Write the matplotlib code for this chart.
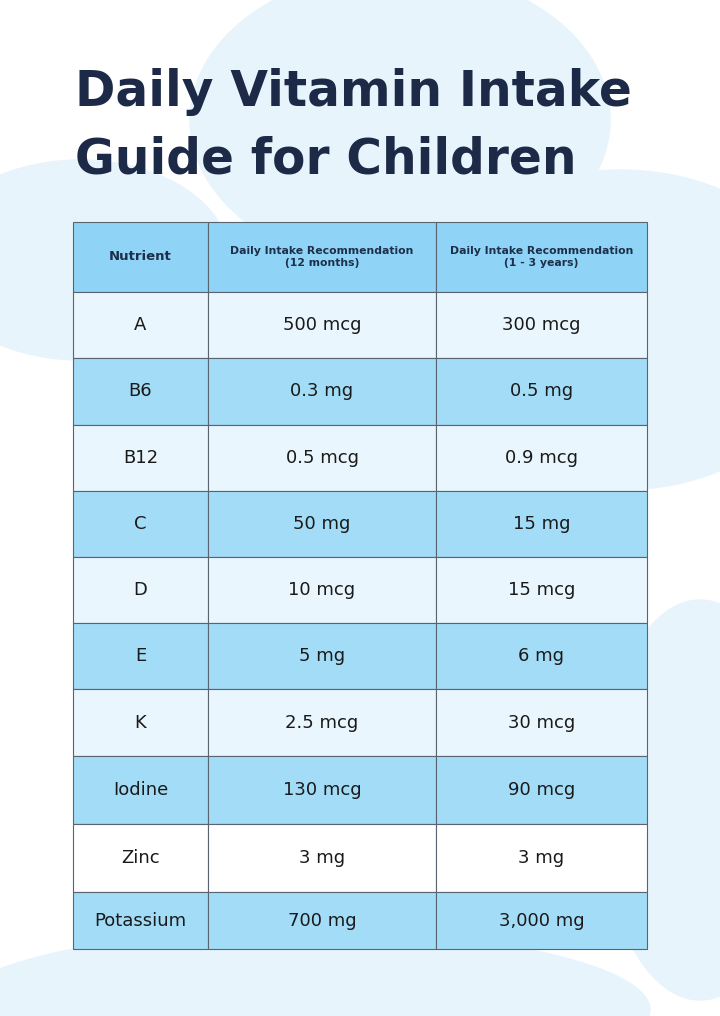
import matplotlib
matplotlib.use("Agg")
import matplotlib.pyplot as plt
from matplotlib.patches import Rectangle, Ellipse

title_lines = ["Daily Vitamin Intake", "Guide for Children"]
headers = ["Nutrient", "Daily Intake Recommendation\n(12 months)",
           "Daily Intake Recommendation\n(1 - 3 years)"]
nutrients = ["A", "B6", "B12", "C", "D", "E", "K", "Iodine", "Zinc", "Potassium"]
intake_12m = ["500 mcg", "0.3 mg", "0.5 mcg", "50 mg", "10 mcg", "5 mg",
              "2.5 mcg", "130 mcg", "3 mg", "700 mg"]
intake_1_3y = ["300 mcg", "0.5 mg", "0.9 mcg", "15 mg", "15 mcg", "6 mg",
               "30 mcg", "90 mcg", "3 mg", "3,000 mg"]

col_edges = [73, 208, 436, 647]
row_edges = [222, 292, 358, 425, 491, 557, 623, 689, 756, 824, 892, 949]

fig = plt.figure(figsize=(7.2, 10.16), dpi=100)
ax = fig.add_axes([0, 0, 1, 1])
ax.set_xlim(0, 720); ax.set_ylim(1016, 0); ax.axis("off")

# pale background blobs
blob = "#e8f4fc"
ax.add_patch(Ellipse((400, 120), 420, 300, color=blob, zorder=0))
ax.add_patch(Ellipse((620, 330), 420, 320, color=blob, zorder=0))
ax.add_patch(Ellipse((80, 260), 300, 200, color=blob, zorder=0))
ax.add_patch(Ellipse((300, 1010), 700, 160, color=blob, zorder=0))
ax.add_patch(Ellipse((700, 800), 200, 400, color=blob, zorder=0))

navy = "#1d2a47"
for i, line in enumerate(title_lines):
    ax.text(75, 92 + i * 68, line, fontsize=35, fontweight="bold", color=navy,
            family="DejaVu Sans", va="center", ha="left")

header_c = "#8fd4f6"
light_c = "#eaf6fd"
dark_c = "#a3dcf7"
text_c = "#1a1a1a"

rows = [headers] + [[n, a, b] for n, a, b in zip(nutrients, intake_12m, intake_1_3y)]
for r, row in enumerate(rows):
    y0, y1 = row_edges[r], row_edges[r + 1]
    if r == 0:
        fc = header_c
    elif r == 9:
        fc = "#ffffff"
    else:
        fc = light_c if r % 2 == 1 else dark_c
    for c, val in enumerate(row):
        x0, x1 = col_edges[c], col_edges[c + 1]
        ax.add_patch(Rectangle((x0, y0), x1 - x0, y1 - y0, facecolor=fc,
                               edgecolor="#5a6470", lw=0.8, zorder=2))
        if r == 0:
            ax.text((x0 + x1) / 2, (y0 + y1) / 2, val, ha="center", va="center",
                    fontsize=9.5 if c == 0 else 7.8, fontweight="bold",
                    color="#1d2f4a", zorder=3, linespacing=1.3)
        else:
            ax.text((x0 + x1) / 2, (y0 + y1) / 2, val, ha="center", va="center",
                    fontsize=13, color=text_c, zorder=3)

fig.savefig("out.png", dpi=100)
